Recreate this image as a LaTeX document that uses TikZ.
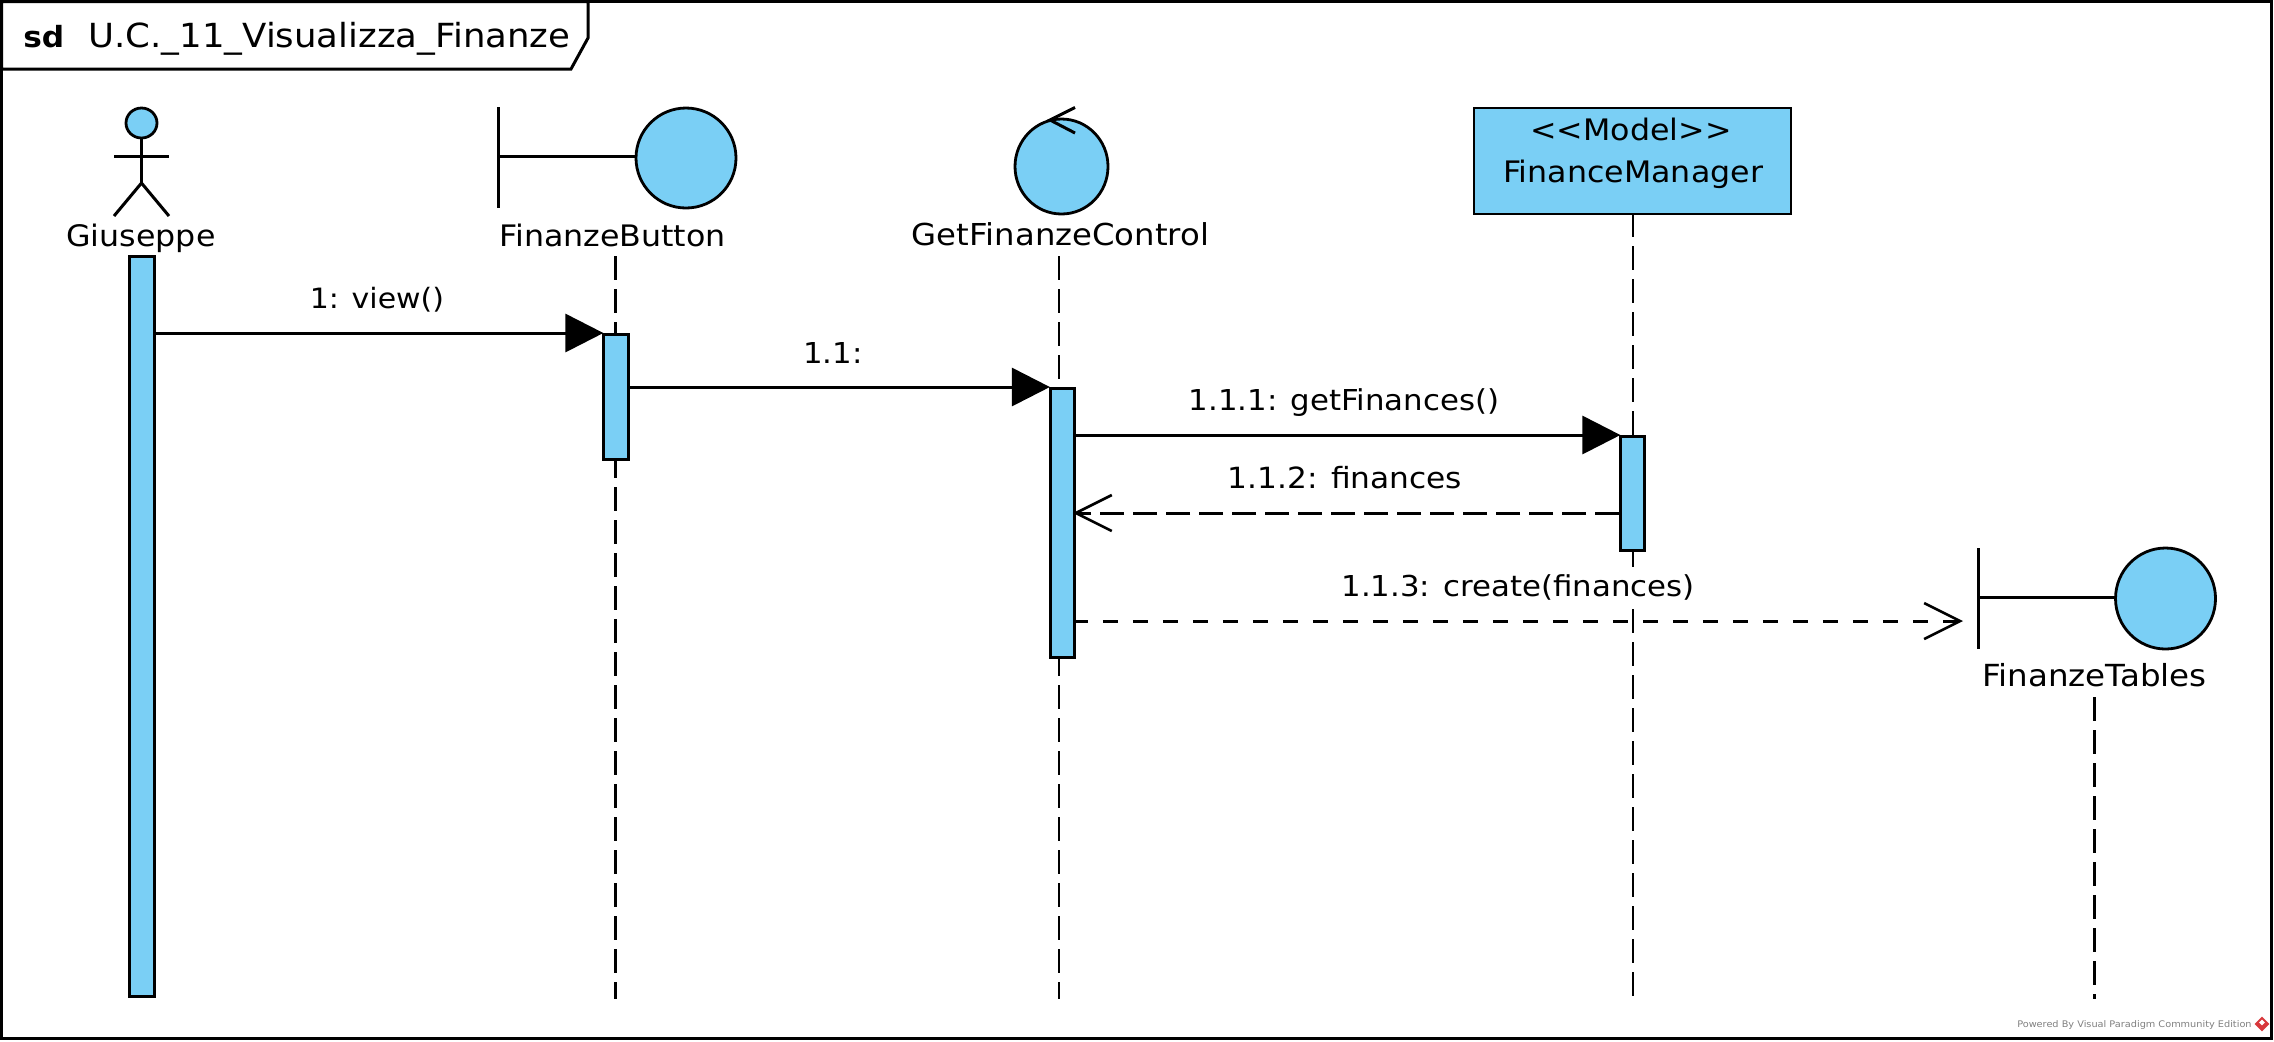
\documentclass[tikz,border=0pt]{standalone}
\usepackage{fontspec}
\setmainfont{DejaVu Sans}[FakeStretch=1.07]
\usetikzlibrary{arrows.meta,shapes.geometric}
\definecolor{vpblue}{HTML}{7ACFF5}
\definecolor{vpred}{HTML}{D8383C}
\tikzset{
  lbl/.style={anchor=base,inner sep=0pt,font=\fontsize{14.8}{17}\selectfont},
  msglbl/.style={anchor=base,inner sep=0pt,font=\fontsize{14.4}{17}\selectfont},
  fig/.style={draw=black,line width=1.4pt,fill=vpblue},
  stick/.style={draw=black,line width=1.5pt},
  act/.style={draw=black,line width=1.5pt,fill=vpblue,inner sep=0pt,anchor=north west,rectangle},
  life/.style={draw=black,line width=1.25pt,dash pattern=on 12pt off 4.5pt},
  sync/.style={draw=black,line width=1.5pt,-{Triangle[length=19pt,width=19pt]},shorten >=-0.7pt},
  barbtip/.style={-{Straight Barb[length=18pt,width=18pt,line width=1.3pt]}},
  replymsg/.style={draw=black,line width=1.5pt,dash pattern=on 12pt off 4.5pt,barbtip,shorten >=-1.5pt},
  createmsg/.style={draw=black,line width=1.5pt,dash pattern=on 7.5pt off 7.5pt,dash phase=1.5pt,barbtip},
}
\begin{document}
\begin{tikzpicture}[x=0.5pt,y=-0.5pt]
\useasboundingbox (0,0) rectangle (2274,1041);
\fill[white] (0,0) rectangle (2274,1041);
% frame
\draw[line width=1.5pt] (1.5,1.5) rectangle (2271.5,1038.5);
\draw[line width=1.5pt,fill=white] (1.5,1.5) -- (588,1.5) -- (588,38) -- (571,69) -- (1.5,69) -- cycle;
\node[lbl,anchor=base west,font=\fontsize{14.6}{17}\selectfont\bfseries] (sd) at (23,47) {sd};
\node[lbl,anchor=base west,font=\fontsize{16.6}{17}\selectfont] (title) at (88,47) {U.C.\_11\_Visualizza\_Finanze};

% lifeline ends
\coordinate (l1a) at (615.5,256); \coordinate (l1b) at (615.5,999);
\coordinate (l2a) at (1059,256);  \coordinate (l2b) at (1059,999);
\coordinate (l3a) at (1633,213);  \coordinate (l3b) at (1633,996);
\coordinate (l4a) at (2094.5,697); \coordinate (l4b) at (2094.5,999);
\draw[life] (l1a) -- (l1b);
\draw[life] (l2a) -- (l2b);
\draw[life] (l3a) -- (l3b);
\draw[life] (l4a) -- (l4b);

% actor
\node[fig,ellipse,minimum width=15.5pt,minimum height=15pt,inner sep=0pt] (head) at (141.5,123) {};
\coordinate (neck) at (141.5,183);
\coordinate (armL) at (114,156); \coordinate (armR) at (169,156);
\coordinate (legL) at (114,216); \coordinate (legR) at (169,216);
\draw[stick] (head.south) -- (neck);
\draw[stick] (armL) -- (armR);
\draw[stick] (legL) -- (neck) -- (legR);
\node[lbl] (giuseppe) at (141,246) {Giuseppe};

% boundary 1
\node[fig,ellipse,minimum width=50pt,minimum height=50pt,inner sep=0pt] (b1c) at (686,158) {};
\coordinate (b1t) at (498,107); \coordinate (b1b) at (498,208); \coordinate (b1m) at (498,156);
\draw[stick] (b1t) -- (b1b);
\draw[stick] (b1m) -- (b1c.west |- b1m);
\node[lbl] (b1l) at (612.5,246) {FinanzeButton};

% control
\node[fig,ellipse,minimum width=46.5pt,minimum height=47.5pt,inner sep=0pt] (cc) at (1061.5,166.5) {};
\coordinate (ctip) at (1050,120); \coordinate (ca1) at (1075,107.5); \coordinate (ca2) at (1075,133);
\draw[stick] (ca1) -- (ctip) -- (ca2);
\node[lbl,font=\fontsize{15.1}{17}\selectfont] (cl) at (1060.5,245) {GetFinanzeControl};

% model box
\node[fig,rectangle,minimum width=158.5pt,minimum height=53pt,inner sep=0pt] (mb) at (1632.5,161) {};
\node[lbl] (ml1) at (1631,140) {<{}<Model>{}>};
\node[lbl] (ml2) at (1633,182) {FinanceManager};

% boundary 2
\node[fig,ellipse,minimum width=50pt,minimum height=50.5pt,inner sep=0pt] (b2c) at (2165.5,598.5) {};
\coordinate (b2t) at (1978,548); \coordinate (b2b) at (1978,649); \coordinate (b2m) at (1978,597);
\draw[stick] (b2t) -- (b2b);
\draw[stick] (b2m) -- (b2c.west |- b2m);
\node[lbl,font=\fontsize{15.2}{17}\selectfont] (b2l) at (2094.5,686) {FinanzeTables};

% activations
\node[act,minimum width=12.5pt,minimum height=370pt] (a0) at (127.5,254.5) {};
\node[act,minimum width=12.4pt,minimum height=62.5pt] (a1) at (602,332.5) {};
\node[act,minimum width=12.2pt,minimum height=134.5pt] (a2) at (1048.5,386.5) {};
\node[act,minimum width=12pt,minimum height=57pt] (a3) at (1619,434.5) {};

% message rows
\coordinate (m1) at (0,333);
\coordinate (m2) at (0,387);
\coordinate (m3) at (0,435);
\coordinate (m4) at (0,513);
\coordinate (m5) at (0,621);
\coordinate (b2edge) at (1963,621);

\draw[sync] (a0.east |- m1) -- (a1.west |- m1);
\draw[sync] (a1.east |- m2) -- (a2.west |- m2);
\draw[sync] (a2.east |- m3) -- (a3.west |- m3);
\draw[replymsg] (a3.west |- m4) -- (a2.east |- m4);
\draw[createmsg] (a2.east |- m5) -- (b2edge);

% message labels
\node[msglbl,font=\fontsize{14}{17}\selectfont] (t1) at (377,308) {1: view()};
\node[msglbl] (t2) at (833,363) {1.1:};
\node[msglbl] (t3) at (1344,410) {1.1.1: getFinances()};
\node[msglbl,font=\fontsize{14.6}{17}\selectfont] (t4) at (1345,488) {1.1.2: finances};
\node[msglbl,fill=white,inner ysep=2pt] (t5) at (1518,596) {1.1.3: create(finances)};

% watermark
\node[anchor=base east,inner sep=0pt,text=gray,font=\fontsize{4.55}{6}\selectfont] (wm) at (2252,1027.5) {Powered By Visual Paradigm Community Edition};
\node[diamond,fill=vpred,minimum width=7.5pt,minimum height=7.5pt,inner sep=0pt] (logo) at (2262,1024) {};
\node[diamond,fill=white,minimum width=3pt,minimum height=3pt,inner sep=0pt] (logoi) at (2262,1022.5) {};
\end{tikzpicture}
\end{document}
